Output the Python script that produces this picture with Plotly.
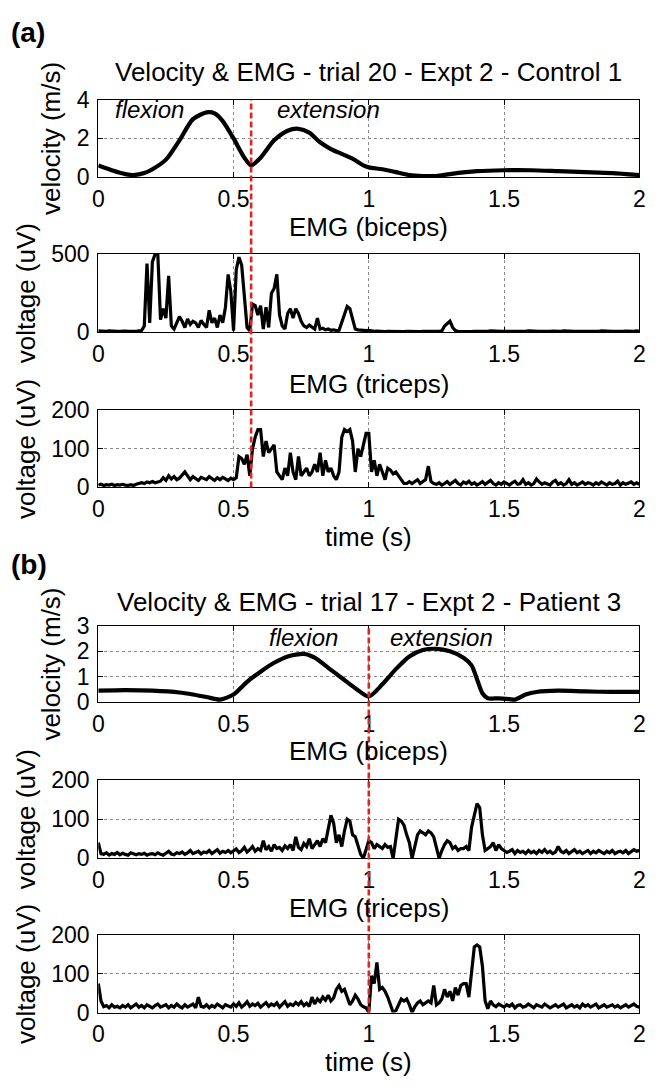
import numpy as np
import plotly.graph_objects as go

W, H = 662, 1087

# ---------------- data ----------------
# (a) Control 1, trial 20 : hand velocity (m/s)
VEL_A_T = [0, 0.05, 0.1, 0.13, 0.17, 0.2, 0.25, 0.3, 0.35, 0.4,
           0.43, 0.46, 0.5, 0.54, 0.565, 0.6, 0.65, 0.7, 0.74, 0.78,
           0.82, 0.86, 0.9, 0.94, 0.98, 1.0, 1.05, 1.1, 1.15, 1.2,
           1.25, 1.3, 1.4, 1.5, 1.6, 1.7, 1.8, 1.9, 2.0]
VEL_A = [0.6, 0.35, 0.15, 0.1, 0.2, 0.4, 0.9, 1.9, 3.0, 3.35,
         3.3, 2.9, 2.0, 1.0, 0.6, 1.0, 1.9, 2.4, 2.5, 2.3,
         1.8, 1.45, 1.2, 0.95, 0.6, 0.5, 0.4, 0.25, 0.1, 0.05,
         0.05, 0.15, 0.3, 0.35, 0.35, 0.3, 0.25, 0.2, 0.1]

# EMG sampled every 10 ms from 0 to 2 s (201 samples)
EMG_T = [round(i * 0.01, 2) for i in range(201)]

A_BICEPS = [
    8, 6, 7, 5, 8, 6, 7, 5, 6, 8,
    7, 6, 5, 7, 6, 8, 10, 40, 440, 60,
    450, 500, 500, 80, 150, 90, 360, 40, 20, 60,
    100, 70, 30, 85, 50, 70, 60, 30, 75, 50,
    30, 140, 60, 90, 30, 110, 60, 160, 370, 260,
    10, 400, 480, 430, 220, 30, 10, 180, 170, 110,
    170, 20, 160, 30, 250, 280, 370, 110, 40, 20,
    120, 150, 90, 150, 120, 70, 40, 30, 45, 30,
    20, 90, 20, 25, 15, 20, 12, 15, 10, 12,
    60, 120, 165, 150, 80, 20, 15, 12, 10, 10,
    12, 6, 5, 7, 5, 6, 4, 6, 5, 7,
    5, 6, 5, 4, 6, 5, 7, 5, 6, 4,
    5, 6, 5, 7, 5, 6, 5, 8, 40, 55,
    70, 30, 10, 6, 5, 7, 5, 6, 4, 6,
    5, 7, 5, 6, 5, 8, 6, 5, 7, 5,
    6, 4, 5, 6, 5, 7, 5, 6, 5, 8,
    6, 5, 7, 5, 6, 4, 6, 5, 7, 5,
    6, 5, 8, 6, 5, 7, 5, 6, 4, 5,
    6, 5, 7, 5, 6, 5, 8, 6, 5, 7,
    5, 6, 4, 6, 5, 7, 5, 6, 5, 8,
    6]

A_TRICEPS = [
    6, 8, 5, 7, 6, 8, 5, 7, 6, 8,
    6, 5, 7, 5, 8, 10, 12, 10, 14, 12,
    15, 12, 14, 16, 25, 18, 30, 22, 28, 20,
    24, 32, 40, 30, 20, 28, 22, 18, 26, 24,
    20, 28, 22, 18, 25, 20, 26, 22, 18, 24,
    20, 25, 80, 75, 60, 85, 30, 100, 130, 150,
    150, 80, 120, 90, 100, 110, 40, 30, 20, 50,
    30, 90, 40, 20, 80, 30, 40, 50, 30, 40,
    60, 40, 90, 30, 70, 40, 50, 30, 20, 40,
    130, 150, 145, 150, 120, 40, 100, 80, 110, 140,
    140, 40, 70, 30, 60, 40, 20, 50, 45, 35,
    40, 30, 20, 10, 10, 15, 10, 15, 20, 10,
    15, 20, 55, 15, 10, 8, 12, 6, 10, 15,
    8, 12, 18, 10, 6, 14, 10, 16, 8, 12,
    6, 10, 15, 8, 12, 18, 10, 6, 12, 8,
    14, 10, 6, 12, 16, 8, 10, 20, 8, 12,
    6, 10, 22, 14, 8, 12, 10, 6, 14, 18,
    8, 12, 6, 10, 20, 8, 12, 6, 10, 14,
    8, 12, 10, 6, 12, 8, 14, 10, 6, 12,
    8, 10, 16, 6, 12, 8, 10, 14, 8, 12,
    8]

# (b) Patient 3, trial 17 : hand velocity (m/s)
VEL_B_T = [0, 0.1, 0.2, 0.3, 0.35, 0.4, 0.45, 0.5, 0.55, 0.6,
           0.65, 0.7, 0.76, 0.8, 0.85, 0.9, 0.95, 1.0, 1.05, 1.1,
           1.15, 1.2, 1.25, 1.3, 1.35, 1.38, 1.4, 1.42, 1.44, 1.48,
           1.52, 1.54, 1.58, 1.62, 1.7, 1.8, 1.9, 2.0]
VEL_B = [0.45, 0.47, 0.45, 0.38, 0.3, 0.2, 0.1, 0.3, 0.8, 1.2,
         1.55, 1.8, 1.9, 1.75, 1.35, 0.95, 0.55, 0.22, 0.7, 1.3,
         1.8, 2.05, 2.1, 2.0, 1.75, 1.45, 0.9, 0.35, 0.15, 0.15,
         0.12, 0.1, 0.3, 0.4, 0.45, 0.42, 0.4, 0.4]

B_BICEPS = [
    40, 12, 10, 14, 8, 12, 10, 15, 9, 13,
    10, 8, 14, 11, 9, 12, 10, 13, 8, 11,
    12, 9, 14, 10, 8, 13, 18, 11, 9, 14,
    12, 16, 10, 14, 20, 12, 15, 18, 11, 16,
    14, 20, 12, 17, 22, 13, 18, 15, 20, 14,
    18, 24, 15, 20, 28, 16, 22, 30, 18, 25,
    20, 45, 22, 30, 18, 35, 25, 28, 20, 32,
    25, 35, 20, 55, 28, 22, 38, 30, 50, 25,
    35, 45, 30, 50, 40, 80, 110, 90, 40, 60,
    30, 70, 100, 95, 60, 55, 30, 10, 0, 20,
    45, 40, 25, 35, 30, 25, 35, 28, 30, 0,
    50, 100, 95, 85, 60, 40, 0, 30, 60, 70,
    65, 60, 70, 65, 55, 30, 0, 20, 35, 45,
    40, 25, 30, 20, 25, 25, 30, 20, 80, 110,
    140, 130, 60, 20, 25, 30, 40, 20, 35, 25,
    20, 15, 18, 22, 12, 20, 15, 18, 12, 20,
    14, 18, 12, 20, 15, 22, 14, 18, 12, 16,
    30, 18, 14, 20, 12, 16, 22, 14, 18, 12,
    16, 20, 12, 18, 14, 20, 16, 12, 18, 14,
    20, 12, 16, 18, 14, 20, 12, 16, 22, 18,
    20]

B_TRICEPS = [
    75, 30, 15, 18, 12, 20, 14, 16, 12, 18,
    14, 20, 12, 16, 22, 14, 18, 12, 20, 16,
    12, 18, 22, 14, 16, 20, 12, 18, 14, 22,
    16, 12, 20, 14, 18, 22, 12, 40, 16, 14,
    20, 12, 18, 14, 22, 16, 12, 20, 18, 14,
    22, 16, 25, 14, 20, 28, 16, 22, 18, 24,
    14, 20, 26, 16, 22, 18, 25, 14, 20, 28,
    16, 22, 18, 26, 20, 28, 18, 24, 16, 40,
    22, 35, 28, 40, 32, 45, 30, 38, 60, 70,
    55, 60, 40, 20, 30, 45, 35, 20, 15, 12,
    0, 95, 75, 130, 60, 65, 55, 40, 20, 0,
    5, 20, 35, 30, 35, 20, 0, 15, 25, 30,
    20, 25, 30, 25, 70, 20, 25, 35, 60, 40,
    55, 30, 65, 45, 70, 75, 75, 40, 100, 170,
    175, 170, 120, 30, 10, 30, 20, 15, 22, 18,
    14, 20, 16, 22, 12, 18, 20, 14, 16, 22,
    18, 12, 20, 16, 14, 22, 18, 12, 16, 20,
    14, 18, 22, 12, 16, 20, 14, 18, 12, 22,
    16, 20, 14, 18, 22, 12, 16, 20, 14, 18,
    20, 14, 18, 12, 16, 20, 14, 18, 22, 16,
    14]

X_TICKS = [0, 0.5, 1, 1.5, 2]
X_LABELS = ["0", "0.5", "1", "1.5", "2"]
ONSET_A = 0.565   # flexion/extension transition, panel (a)
ONSET_B = 1.0     # flexion/extension transition, panel (b)

# ---------------- layout helpers ----------------
FONT = "Liberation Sans, Arial, Helvetica, sans-serif"
TOPS = [89, 247, 407, 628, 786, 945]
BOTS = [168, 327, 486, 706, 866, 1024]
XL, XR = 94, 645


def py(p):
    return 1 - p / H


fig = go.Figure()

series = [
    (VEL_A_T, VEL_A, 4.2, "spline"),
    (EMG_T, A_BICEPS, 3.2, "linear"),
    (EMG_T, A_TRICEPS, 3.2, "linear"),
    (VEL_B_T, VEL_B, 4.2, "spline"),
    (EMG_T, B_BICEPS, 3.2, "linear"),
    (EMG_T, B_TRICEPS, 3.2, "linear"),
]
yinfo = [
    ("velocity (m/s)", [0, 4], [0, 2, 4]),
    ("voltage (uV)", [0, 500], [0, 500]),
    ("voltage (uV)", [0, 200], [0, 100, 200]),
    ("velocity (m/s)", [0, 3], [0, 1, 2, 3]),
    ("voltage (uV)", [0, 200], [0, 100, 200]),
    ("voltage (uV)", [0, 200], [0, 100, 200]),
]

for k, (xs, ys, lw, shape) in enumerate(series):
    n = "" if k == 0 else str(k + 1)
    line = dict(color="black", width=lw, shape=shape)
    if shape == "spline":
        line["smoothing"] = 0.7
    fig.add_trace(go.Scatter(x=xs, y=ys, mode="lines", line=line,
                             xaxis="x" + n, yaxis="y" + n,
                             showlegend=False, hoverinfo="skip"))
    title, rng, tv = yinfo[k]
    common = dict(showline=True, linecolor="black", linewidth=1.2,
                  mirror="allticks", ticks="inside", ticklen=5,
                  tickcolor="black", showgrid=True, gridcolor="#8a8a8a",
                  griddash="dot", gridwidth=1, zeroline=False,
                  tickfont=dict(family=FONT, size=23, color="black"))
    fig.layout["xaxis" + n] = dict(
        common, domain=[XL / W, XR / W], range=[0, 2], anchor="y" + n,
        tickvals=X_TICKS, ticktext=X_LABELS, ticklabelstandoff=1)
    fig.layout["yaxis" + n] = dict(
        common, domain=[py(BOTS[k]), py(TOPS[k])], range=rng,
        anchor="x" + n, tickvals=tv, ticklabelstandoff=3,
        title=dict(text=title, standoff=8,
                   font=dict(family=FONT, size=26, color="black")))

# transition markers
RED = "#e3241e"
fig.add_shape(type="line", xref="x", yref="paper", x0=ONSET_A, x1=ONSET_A,
              y0=py(BOTS[2]), y1=py(TOPS[0]),
              line=dict(color=RED, width=2.6, dash="6px,3px"), layer="above")
fig.add_shape(type="line", xref="x4", yref="paper", x0=ONSET_B, x1=ONSET_B,
              y0=py(BOTS[5]), y1=py(TOPS[3]),
              line=dict(color=RED, width=2.6, dash="6px,3px"), layer="above")

xc = (XL + XR) / 2 / W


def text(s, x, y, size, xanchor="center", bold=False, italic=False,
         xref="paper", yref="paper"):
    if bold:
        s = "<b>" + s + "</b>"
    if italic:
        s = "<i>" + s + "</i>"
    fig.add_annotation(text=s, x=x, y=y, xref=xref, yref=yref,
                       xanchor=xanchor, yanchor="middle", showarrow=False,
                       font=dict(family=FONT, size=size, color="black"))


text("(a)", 3 / W, py(20), 28, xanchor="left", bold=True)
text("Velocity &amp; EMG - trial 20 - Expt 2 - Control 1", xc, py(60), 26)
text("EMG (biceps)", xc, py(219), 26)
text("EMG (triceps)", xc, py(380), 26)
text("time (s)", xc, py(537), 26)

text("(b)", 3 / W, py(565), 28, xanchor="left", bold=True)
text("Velocity &amp; EMG - trial 17 - Expt 2 - Patient 3", xc, py(603), 26)
text("EMG (biceps)", xc, py(756), 26)
text("EMG (triceps)", xc, py(917), 26)
text("time (s)", xc, py(1075), 26)

text("flexion", 0.19, 3.5, 24, italic=True, xref="x", yref="y")
text("extension", 0.85, 3.5, 24, italic=True, xref="x", yref="y")
text("flexion", 0.76, 2.55, 24, italic=True, xref="x4", yref="y4")
text("extension", 1.27, 2.55, 24, italic=True, xref="x4", yref="y4")

fig.update_layout(width=W, height=H, margin=dict(l=0, r=0, t=0, b=0),
                  paper_bgcolor="white", plot_bgcolor="white",
                  font=dict(family=FONT, color="black"))

fig.write_html("out.html")
